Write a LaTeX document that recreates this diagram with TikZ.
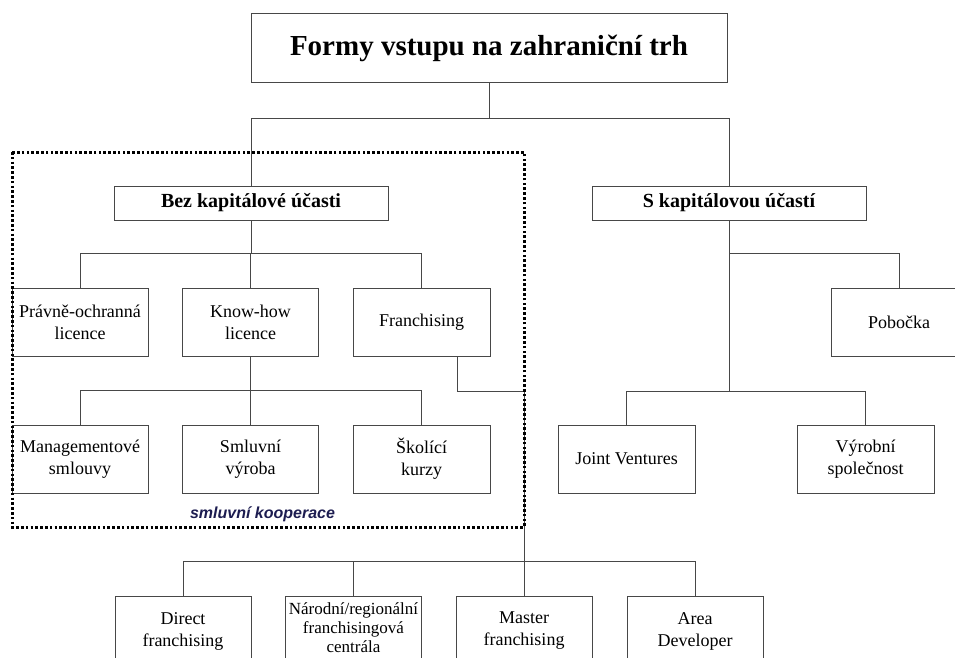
\documentclass[tikz,border=0pt]{standalone}
\usepackage{fontspec}
\setmainfont{Liberation Serif}
\newfontfamily\coopfont{Liberation Sans}
\usetikzlibrary{positioning,calc}
\definecolor{coopblue}{HTML}{1C1C50}
\tikzset{
  frm/.style={rectangle, draw=black!72, line width=1pt, fill=white, align=center,
    inner sep=0pt, minimum width=136pt, minimum height=68pt, font=\fontsize{18}{22}\selectfont},
  head/.style={frm, minimum width=274pt, minimum height=34pt, font=\bfseries\fontsize{20}{24}\selectfont},
  link/.style={draw=black!72, line width=1pt},
  coopframe/.style={draw=black, line width=3pt, dash pattern=on 2.6pt off 2.2pt},
}

\begin{document}
\begin{tikzpicture}[x=1pt, y=-1pt,
  rowbox/.style={frm, minimum height=70pt}]
  \useasboundingbox (0,0) rectangle (955,658);
  \clip (0,0) rectangle (955,658);
  \node[frm, minimum width=476pt, minimum height=69pt, font=\bfseries\fontsize{29}{34}\selectfont]
    (root) at (489,48.5) {Formy vstupu na zahraniční trh};
  \node[head] (bez) at (251,203) {Bez kapitálové účasti};
  \node[head] (skap) at (729,203) {S kapitálovou účastí};
  \node[frm] (prav) at (80,322) {Právně-ochranná\\licence};
  \node[frm] (know) at (250.5,322) {Know-how\\licence};
  \node[frm, minimum width=137pt] (fran) at (421.5,322) {Franchising};
  \node[frm] (mng) at (80,459) {Managementové\\smlouvy};
  \node[frm] (smv) at (250.5,459) {Smluvní\\výroba};
  \node[frm, minimum width=137pt] (skol) at (421.5,459) {Školící\\kurzy};
  \node[frm] (pob) at (899,322) {Pobočka};
  \node[frm, minimum width=137pt] (jv) at (626.5,459) {Joint Ventures};
  \node[frm, minimum width=137pt] (vsp) at (865.5,459) {Výrobní\\společnost};
  \node[rowbox] (dir) at (183,631) {Direct\\franchising};
  \node[rowbox, font=\fontsize{17}{19}\selectfont] (nar) at (353.5,631) {};
  \node[font=\fontsize{17}{19}\selectfont, align=center, inner sep=0pt] (nartxt) at (353.5,628)
    {Národní/regionální\\franchisingová\\centrála};
  \node[rowbox] (mst) at (524,631) {Master\\franchising};
  \node[rowbox] (area) at (695,631) {Area\\Developer};
  \node[font=\coopfont\bfseries\itshape\fontsize{16}{19}\selectfont, text=coopblue, anchor=base]
    (coop) at (262.5,518) {smluvní kooperace};
  \draw[link] (root.south) -- ++(0,35) coordinate (j0);
  \draw[link] (bez.north) |- (j0) -| (skap.north);
  \draw[link] (bez.south) -- ++(0,33) coordinate (j1);
  \draw[link] (prav.north) |- (j1) -| (fran.north);
  \draw[link] (know.north) -- (know.north |- j1);
  \coordinate (j2) at ($(know.south)!0.5!(smv.north)$);
  \draw[link] (know.south) -- (smv.north);
  \draw[link] (mng.north) |- (j2) -| (skol.north);
  \coordinate (cfr) at (524,391);
  \draw[link] ([xshift=35.5pt]fran.south) |- (cfr) -- (mst.north);
  \path (mst.north) ++(0,-34) coordinate (j3);
  \draw[link] (dir.north) |- (j3) -| (area.north);
  \draw[link] (nar.north) -- (nar.north |- j3);
  \path (skap.south) ++(0,33) coordinate (j4);
  \coordinate (j5) at ($(skap.south)+(0,171)$);
  \draw[link] (skap.south) -- (j5);
  \draw[link] (j4) -| (pob.north);
  \draw[link] (jv.north) |- (j5) -| (vsp.north);
  \draw[coopframe] (12,152) rectangle (524,527);
\end{tikzpicture}
\end{document}
